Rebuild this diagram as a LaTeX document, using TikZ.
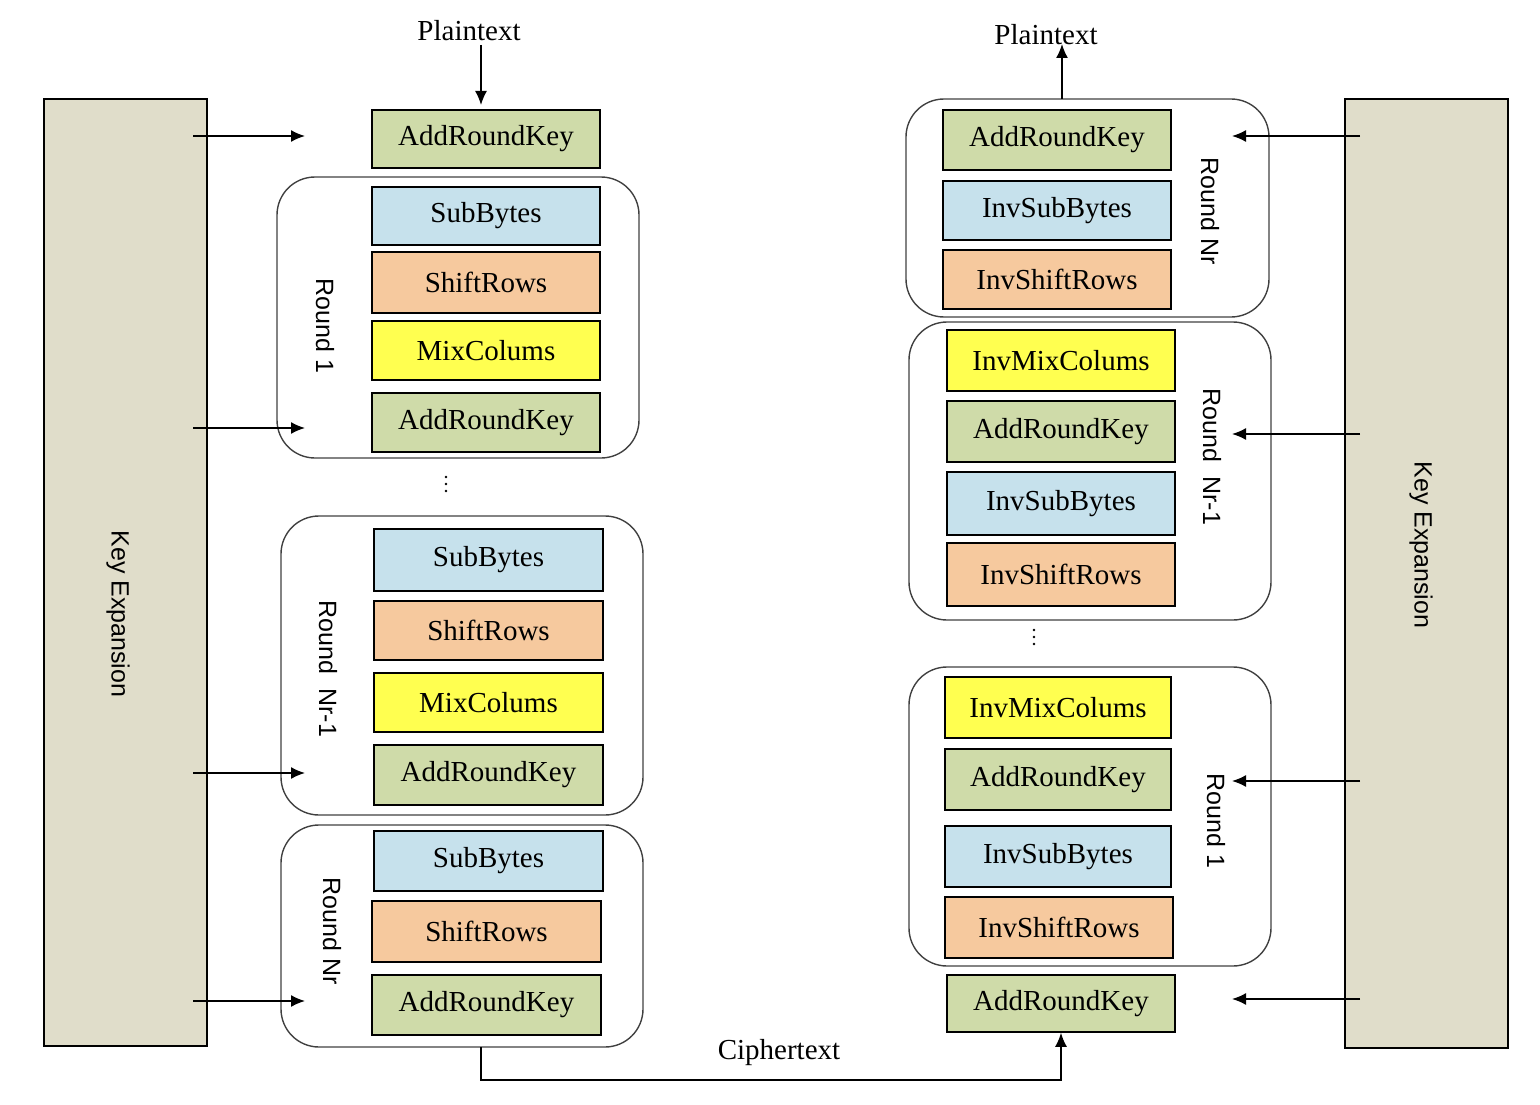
\documentclass[tikz,border=0pt]{standalone}
\usepackage{fontspec}
\setmainfont{Liberation Serif}
\setsansfont{Liberation Sans}
\usetikzlibrary{arrows.meta}

\definecolor{arkgreen}{RGB}{207,219,169}
\definecolor{sbblue}{RGB}{198,225,236}
\definecolor{srorange}{RGB}{246,201,158}
\definecolor{mcyellow}{RGB}{255,255,80}
\definecolor{keybeige}{RGB}{224,221,202}

\tikzset{
  stage/.style={draw, line width=1.6pt, inner sep=0pt, font=\fontsize{29}{32}\selectfont},
  ark/.style={stage, fill=arkgreen},
  sbx/.style={stage, fill=sbblue},
  srw/.style={stage, fill=srorange},
  mcl/.style={stage, fill=mcyellow},
  roundbox/.style={draw=black!75, line width=1.4pt, rounded corners=38pt, inner sep=0pt},
  roundlabel/.style={rotate=-90, font=\sffamily\fontsize{25}{28}\selectfont},
  keybox/.style={draw, line width=1.6pt, fill=keybeige, inner sep=0pt},
  keylabel/.style={rotate=-90, font=\sffamily\fontsize{25}{28}\selectfont},
  keyarrow/.style={-{Latex[length=14pt,width=12pt]}, line width=1.6pt},
  flowtext/.style={font=\fontsize{29}{32}\selectfont},
}

% box from corner (x1,y1) to (x2,y2): name, style, x1, y1, x2, y2, text
\newcommand{\stg}[7]{%
  \node[#2, minimum width={(#5-#3)*1pt}, minimum height={(#6-#4)*1pt}]
    (#1) at ({(#3+#5)/2},{(#4+#6)/2}) {#7};}

\begin{document}
\begin{tikzpicture}[x=1pt, y=-1pt]
  \useasboundingbox (0,0) rectangle (1540,1105);

  % key expansion columns
  \stg{keyL}{keybox}{44}{99}{207}{1046}{}
  \stg{keyR}{keybox}{1345}{99}{1508}{1048}{}
  \node[keylabel] (keyLtxt) at (118,614) {Key Expansion};
  \node[keylabel] (keyRtxt) at (1421,545) {Key Expansion};

  % ---------------- encryption ----------------
  % round frames
  \stg{eR1}{roundbox}{277}{177}{639}{458}{}
  \stg{eRm}{roundbox}{281}{516}{643}{815}{}
  \stg{eRn}{roundbox}{281}{825}{643}{1047}{}
  \node[roundlabel] (eR1txt) at (325,326) {Round 1};
  \node[roundlabel] (eRmtxt) at (328,669) {Round\ \ Nr-1};
  \node[roundlabel] (eRntxt) at (332,931) {Round Nr};

  % initial key addition
  \stg{eK0}{ark}{372}{110}{600}{168}{AddRoundKey}
  % round 1
  \stg{eS1}{sbx}{372}{187}{600}{245}{SubBytes}
  \stg{eH1}{srw}{372}{252}{600}{313}{ShiftRows}
  \stg{eM1}{mcl}{372}{321}{600}{380}{MixColums}
  \stg{eK1}{ark}{372}{393}{600}{452}{AddRoundKey}
  % round Nr-1
  \stg{eSm}{sbx}{374}{529}{603}{591}{SubBytes}
  \stg{eHm}{srw}{374}{601}{603}{660}{ShiftRows}
  \stg{eMm}{mcl}{374}{673}{603}{732}{MixColums}
  \stg{eKm}{ark}{374}{745}{603}{805}{AddRoundKey}
  % round Nr
  \stg{eSn}{sbx}{374}{831}{603}{891}{SubBytes}
  \stg{eHn}{srw}{372}{901}{601}{962}{ShiftRows}
  \stg{eKn}{ark}{372}{975}{601}{1035}{AddRoundKey}

  % ---------------- decryption ----------------
  % round frames
  \stg{dRn}{roundbox}{906}{99}{1269}{317}{}
  \stg{dRm}{roundbox}{909}{322}{1271}{620}{}
  \stg{dR1}{roundbox}{909}{667}{1271}{966}{}
  \node[roundlabel] (dRntxt) at (1210,211) {Round Nr};
  \node[roundlabel] (dRmtxt) at (1212,457) {Round\ \ Nr-1};
  \node[roundlabel] (dR1txt) at (1216,821) {Round 1};

  % round Nr
  \stg{dKn}{ark}{943}{110}{1171}{170}{AddRoundKey}
  \stg{dSn}{sbx}{943}{181}{1171}{240}{InvSubBytes}
  \stg{dHn}{srw}{943}{250}{1171}{309}{InvShiftRows}
  % round Nr-1
  \stg{dMm}{mcl}{947}{330}{1175}{391}{InvMixColums}
  \stg{dKm}{ark}{947}{401}{1175}{462}{AddRoundKey}
  \stg{dSm}{sbx}{947}{472}{1175}{535}{InvSubBytes}
  \stg{dHm}{srw}{947}{543}{1175}{606}{InvShiftRows}
  % round 1
  \stg{dM1}{mcl}{945}{677}{1171}{738}{InvMixColums}
  \stg{dK1}{ark}{945}{749}{1171}{810}{AddRoundKey}
  \stg{dS1}{sbx}{945}{826}{1171}{887}{InvSubBytes}
  \stg{dH1}{srw}{945}{897}{1173}{958}{InvShiftRows}
  % final key addition
  \stg{dK0}{ark}{947}{975}{1175}{1032}{AddRoundKey}

  % skipped rounds
  \foreach \d in {0,1,2} {
    \fill (446,{477+\d*7}) circle (1.3pt);
    \fill (1034,{630+\d*7}) circle (1.3pt);
  }

  % round keys into the rounds
  \foreach \y [count=\i] in {136,428,773,1001} {
    \coordinate (kl\i) at (193,\y);
    \coordinate (tl\i) at (305,\y);
    \draw[keyarrow] (kl\i) -- (tl\i);
  }
  \foreach \y [count=\i] in {136,434,781,999} {
    \coordinate (kr\i) at (1360,\y);
    \coordinate (tr\i) at (1232,\y);
    \draw[keyarrow] (kr\i) -- (tr\i);
  }

  % plaintext and ciphertext
  \node[flowtext] (ptIn) at (469,31) {Plaintext};
  \node[flowtext] (ptOut) at (1046,35) {Plaintext};
  \node[flowtext] (ctxt) at (779,1053) {Ciphertext};
  \coordinate (ptInA) at (481,45);
  \coordinate (ptInB) at (481,105);
  \draw[keyarrow] (ptInA) -- (ptInB);
  \coordinate (ptOutA) at (1062,99);
  \coordinate (ptOutB) at (1062,44);
  \draw[keyarrow] (ptOutA) -- (ptOutB);
  \coordinate (ctA) at (481,1047);
  \draw[keyarrow] (ctA) -- ++(0,33) -| (dK0.south);
\end{tikzpicture}
\end{document}
